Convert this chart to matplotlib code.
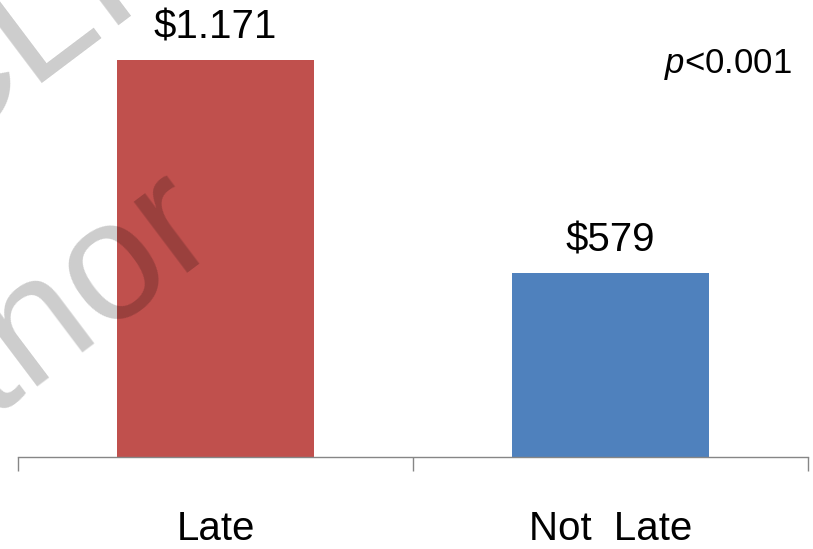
import matplotlib
matplotlib.use("Agg")
import matplotlib.pyplot as plt

# data
categories = ["Late", "Not  Late"]
costs = [1171, 579]
cost_labels = ["$1.171", "$579"]
bar_colors = ["#C0504D", "#4F81BD"]
p_text = "$\\it{p}$<0.001"

plt.rcParams["font.family"] = ["Liberation Sans", "DejaVu Sans"]
plt.rcParams["mathtext.fontset"] = "custom"
plt.rcParams["mathtext.it"] = "Liberation Sans:italic"
plt.rcParams["mathtext.rm"] = "Liberation Sans"

fig = plt.figure(figsize=(8.13, 5.49), dpi=100)
ax = fig.add_axes([18 / 813, 92 / 549, 790 / 813, 457 / 549])

x = range(len(categories))
bars = ax.bar(x, costs, width=0.5, color=bar_colors, zorder=2)
ax.bar_label(bars, labels=cost_labels, padding=10, fontsize=29)

ax.set_xlim(-0.5, 1.5)
ax.set_ylim(68, 1338)

# category boundary ticks + labels in the middle
ax.set_xticks([-0.5, 0.5, 1.5])
ax.set_xticklabels([])
ax.set_xticks(list(x), minor=True)
ax.set_xticklabels(categories, minor=True, fontsize=29)
ax.tick_params(axis="x", which="major", length=10, color="#868686", width=1)
ax.tick_params(axis="x", which="minor", length=0, pad=38)
ax.set_yticks([])

for s in ["top", "right", "left"]:
    ax.spines[s].set_visible(False)
ax.spines["bottom"].set_color("#868686")
ax.spines["bottom"].set_linewidth(1)

ax.text(792 / 790 - 18 / 790, 65 / 457, p_text, transform=ax.transAxes)
ax.texts[-1].set_position((0.9797, 1 - 65 / 457))
ax.texts[-1].set_ha("right")
ax.texts[-1].set_va("center")
ax.texts[-1].set_fontsize(25)

# watermark
fig.text(224 / 813, 1 - 245 / 549, "Author", fontsize=122, rotation=37,
         rotation_mode="anchor", ha="right", va="baseline",
         color="black", alpha=0.2, zorder=10)
fig.text(-68 / 813, 1 - 159 / 549, "CLI", fontsize=122, rotation=37,
         rotation_mode="anchor", ha="left", va="baseline",
         color="black", alpha=0.2, zorder=10)

fig.savefig("out.png", dpi=100)
